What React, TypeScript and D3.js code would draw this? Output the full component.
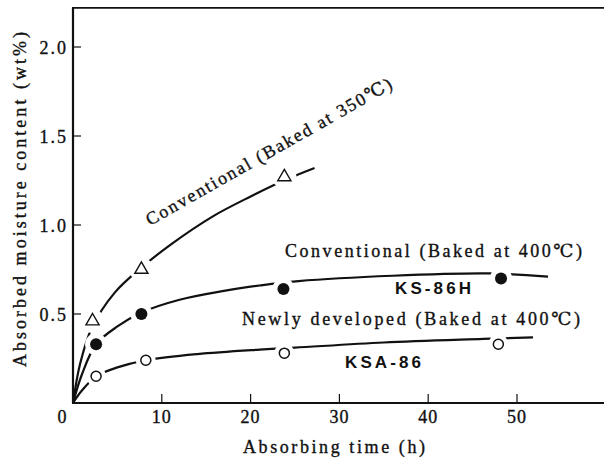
import React, { useEffect, useRef } from 'react';
import * as d3 from 'd3';

const W = 604;
const H = 465;

const xTicks = [10, 20, 30, 40, 50];
const yTicks = [0.5, 1.0, 1.5, 2.0];
const yTickLabels = ['0.5', '1.0', '1.5', '2.0'];

// measured points (h, wt%)
const conv350Time = [2.2, 7.7, 23.8];
const conv350Value = [0.46, 0.75, 1.27];
const conv400Time = [2.6, 7.7, 23.7, 48.2];
const conv400Value = [0.33, 0.5, 0.64, 0.7];
const newTime = [2.6, 8.2, 23.8, 47.9];
const newValue = [0.15, 0.24, 0.28, 0.33];

// hand drawn trend curves, knots
const conv350FitTime = [0, 0.8, 2.1, 4.7, 7.7, 11, 15.8, 20, 24, 27.2];
const conv350FitValue = [0, 0.22, 0.42, 0.62, 0.76, 0.89, 1.05, 1.16, 1.255, 1.32];
const conv400FitTime = [0, 1, 2.6, 5, 7.8, 12, 17, 21, 25.4, 36, 46.8, 53.5];
const conv400FitValue = [0, 0.16, 0.33, 0.43, 0.51, 0.58, 0.63, 0.66, 0.685, 0.715, 0.728, 0.71];
const newFitTime = [0, 1, 2.6, 5, 8.2, 14, 21, 25, 35, 46.2, 51.8];
const newFitValue = [0, 0.07, 0.15, 0.2, 0.24, 0.275, 0.3, 0.311, 0.34, 0.36, 0.369];

const serif = '"Liberation Serif", "DejaVu Serif", serif';
const sans = '"Liberation Sans", Arial, sans-serif';

const App: React.FC = () => {
  const svgRef = useRef<SVGSVGElement>(null);

  useEffect(() => {
    if (!svgRef.current) return;
    const svg = d3.select(svgRef.current);
    svg.selectAll('*').remove();

    const x = d3.scaleLinear().domain([0, 60]).range([73, 73 + 60 * 8.88]);
    const y = d3.scaleLinear().domain([0, 2]).range([403, 47]);

    svg.append('rect').attr('width', W).attr('height', H).attr('fill', '#fff');

    // frame
    const ax = svg.append('g').attr('stroke', '#111').attr('fill', 'none');
    ax.append('line').attr('x1', x(0)).attr('x2', x(0)).attr('y1', y(2.22)).attr('y2', y(0)).attr('stroke-width', 2.2);
    ax.append('line').attr('x1', x(0) - 1).attr('x2', W).attr('y1', y(0)).attr('y2', y(0)).attr('stroke-width', 2.2);
    ax.append('line').attr('x1', x(0) - 1).attr('x2', W).attr('y1', y(2.22)).attr('y2', y(2.22)).attr('stroke-width', 1.6);

    // ticks point inward
    xTicks.forEach(t => {
      ax.append('line').attr('x1', x(t)).attr('x2', x(t)).attr('y1', y(0)).attr('y2', y(0) - 9).attr('stroke-width', 1.2);
    });
    yTicks.forEach(t => {
      ax.append('line').attr('x1', x(0)).attr('x2', x(0) + 8).attr('y1', y(t)).attr('y2', y(t)).attr('stroke-width', 1.2);
    });

    // scanned print looks a bit heavy, so give the serif text a thin outline
    const txt = svg.append('g').attr('fill', '#111').attr('font-family', serif)
      .attr('stroke', '#111').attr('stroke-width', 0.35);

    txt.append('text').attr('x', x(0) - 11).attr('y', 423).attr('text-anchor', 'middle')
      .attr('font-size', 18).text('0');
    xTicks.forEach(t => {
      txt.append('text').attr('x', x(t)).attr('y', 423).attr('text-anchor', 'middle')
        .attr('font-size', 18).attr('letter-spacing', 1).text(String(t));
    });
    yTicks.forEach((t, i) => {
      txt.append('text').attr('x', 68).attr('y', y(t) + 7).attr('text-anchor', 'end')
        .attr('font-size', 18).attr('letter-spacing', 2).text(yTickLabels[i]);
    });

    txt.append('text').attr('x', 243).attr('y', 453).attr('font-size', 18)
      .attr('textLength', 182).attr('lengthAdjust', 'spacing').text('Absorbing time (h)');
    txt.append('text').attr('transform', 'translate(26,367) rotate(-90)').attr('font-size', 18)
      .attr('textLength', 335).attr('lengthAdjust', 'spacing').text('Absorbed moisture content (wt%)');

    // curves
    const line = d3.line<[number, number]>()
      .x(d => x(d[0]))
      .y(d => y(d[1]))
      .curve(d3.curveCatmullRom.alpha(0.5));

    const fits: [number[], number[]][] = [
      [conv350FitTime, conv350FitValue],
      [conv400FitTime, conv400FitValue],
      [newFitTime, newFitValue],
    ];
    fits.forEach(([ts, vs]) => {
      svg.append('path')
        .attr('d', line(ts.map((t, i) => [t, vs[i]] as [number, number])))
        .attr('fill', 'none').attr('stroke', '#111').attr('stroke-width', 2.2);
    });

    // white halos to break the curves around markers
    const halo = svg.append('g').attr('fill', '#fff');
    const allPts: [number[], number[], number][] = [
      [conv350Time, conv350Value, 12],
      [conv400Time, conv400Value, 11],
      [newTime, newValue, 10],
    ];
    allPts.forEach(([ts, vs, r]) => {
      ts.forEach((t, i) => {
        halo.append('circle').attr('cx', x(t)).attr('cy', y(vs[i])).attr('r', r);
      });
    });

    const marks = svg.append('g');
    const tri = d3.symbol().type(d3.symbolTriangle).size(75);
    conv350Time.forEach((t, i) => {
      marks.append('path').attr('d', tri()!)
        .attr('transform', `translate(${x(t)},${y(conv350Value[i])})`)
        .attr('fill', '#fff').attr('stroke', '#111').attr('stroke-width', 1.4);
    });
    conv400Time.forEach((t, i) => {
      marks.append('circle').attr('cx', x(t)).attr('cy', y(conv400Value[i])).attr('r', 6)
        .attr('fill', '#111');
    });
    newTime.forEach((t, i) => {
      marks.append('circle').attr('cx', x(t)).attr('cy', y(newValue[i])).attr('r', 5)
        .attr('fill', '#fff').attr('stroke', '#111').attr('stroke-width', 1.5);
    });

    // curve labels
    const lbl = svg.append('g').attr('fill', '#111').attr('font-family', serif)
      .attr('stroke', '#111').attr('stroke-width', 0.35);
    lbl.append('text').attr('transform', 'translate(150,226) rotate(-29.6)').attr('font-size', 18)
      .attr('textLength', 280).attr('lengthAdjust', 'spacing').text('Conventional (Baked at 350℃)');
    lbl.append('text').attr('x', 285).attr('y', 257).attr('font-size', 18)
      .attr('textLength', 297).attr('lengthAdjust', 'spacing').text('Conventional (Baked at 400℃)');
    lbl.append('text').attr('x', 242).attr('y', 325).attr('font-size', 18)
      .attr('textLength', 338).attr('lengthAdjust', 'spacing').text('Newly developed (Baked at 400℃)');

    const code = svg.append('g').attr('fill', '#111').attr('font-family', sans).attr('font-weight', 'bold');
    code.append('text').attr('x', 395).attr('y', 294).attr('font-size', 17)
      .attr('textLength', 76).attr('lengthAdjust', 'spacing').text('KS-86H');
    code.append('text').attr('x', 345).attr('y', 368).attr('font-size', 17)
      .attr('textLength', 76).attr('lengthAdjust', 'spacing').text('KSA-86');
  }, []);

  return (
    <svg
      ref={svgRef}
      width={W}
      height={H}
      style={{ position: 'absolute', left: 0, top: 0, display: 'block' }}
    />
  );
};

export default App;
